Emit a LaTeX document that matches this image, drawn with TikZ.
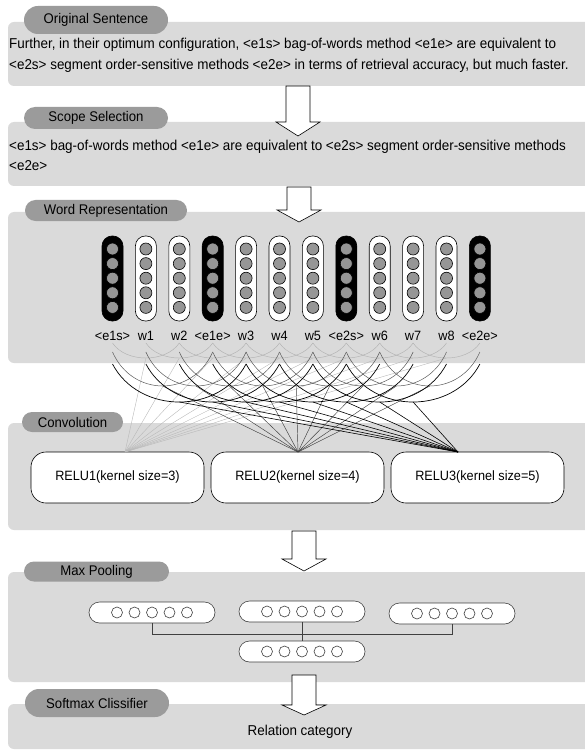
\documentclass[tikz,border=0pt]{standalone}
\usepackage{fontspec}
\setmainfont{Liberation Sans}[FakeStretch=0.94]
\usetikzlibrary{shapes.misc,calc}
\definecolor{panelgray}{RGB}{218,218,218}
\definecolor{pillgray}{RGB}{155,155,155}
\definecolor{dotgray}{RGB}{150,150,150}
\begin{document}
\begin{tikzpicture}[x=1pt,y=-1pt,
  font=\fontsize{14.3}{16}\selectfont,
  panel/.style={fill=panelgray, rounded corners=6pt},
  pill/.style={rounded rectangle, fill=pillgray, inner sep=0pt, font=\fontsize{14}{16}\selectfont},
  txt/.style={anchor=base west, inner sep=0pt},
  wcol/.style={draw=black, line width=0.6pt, rounded corners=10pt, minimum width=21pt, minimum height=85pt, inner sep=0pt},
  dot/.style={circle, draw=black, line width=0.6pt, fill=dotgray, minimum size=12pt, inner sep=0pt},
  wlab/.style={anchor=base, inner sep=0pt, font=\fontsize{13.5}{16}\selectfont},
  k3/.style={gray!60, line width=0.45pt},
  k4/.style={gray!70!black, line width=0.5pt},
  k5/.style={black, line width=0.7pt},
  k3line/.style={gray!55, line width=0.4pt},
  k4line/.style={gray!50!black, line width=0.45pt},
  k5line/.style={black, line width=0.6pt},
  relubox/.style={draw=black, line width=0.6pt, fill=white, rounded corners=15pt, minimum width=173pt, minimum height=51pt, inner sep=0pt, font=\fontsize{13.5}{16}\selectfont},
  poolbox/.style={rounded rectangle, draw=black!75, line width=0.6pt, fill=white, minimum width=126pt, minimum height=21pt, inner sep=0pt},
  pdot/.style={circle, draw=black!75, line width=0.6pt, fill=white, minimum size=11pt, inner sep=0pt},
  conn/.style={draw=black!75, line width=0.6pt},
  bigarrow/.style={draw=black, line width=0.6pt, fill=white}]
\useasboundingbox (0,0) rectangle (584,751);

% panels
\fill[panel] (8,22) rectangle (600,86);
\fill[panel] (8,122) rectangle (600,186);
\fill[panel] (8,212) rectangle (600,363);
\fill[panel] (8,423) rectangle (600,530);
\fill[panel] (8,572) rectangle (600,682);
\fill[panel] (8,704) rectangle (600,749);

% pills
\node[pill, minimum width=144pt, minimum height=28pt] (p1) at (96,20) {Original Sentence};
\node[pill, minimum width=144pt, minimum height=22pt] (p2) at (96,118) {Scope Selection};
\node[pill, minimum width=162pt, minimum height=21pt] (p3) at (106,210.5) {Word Representation};
\node[pill, minimum width=101pt, minimum height=20pt] (p4) at (72.5,422) {Convolution};
\node[pill, minimum width=145pt, minimum height=20pt] (p5) at (96.5,571.5) {Max Pooling};
\node[pill, minimum width=144pt, minimum height=28pt] (p6) at (97,703) {Softmax Clissifier};

% texts
\node[txt] (t1a) at (9,49) {Further, in their optimum configuration, <e1s> bag-of-words method <e1e> are equivalent to};
\node[txt] (t1b) at (9,69.5) {<e2s> segment order-sensitive methods <e2e> in terms of retrieval accuracy, but much faster.};
\node[txt] (t2a) at (9,150.5) {<e1s> bag-of-words method <e1e> are equivalent to <e2s> segment order-sensitive methods};
\node[txt] (t2b) at (9,171) {<e2e>};

% word columns
\foreach \i/\lab/\fc in {0/{<e1s>}/black,1/w1/white,2/w2/white,3/{<e1e>}/black,4/w3/white,5/w4/white,6/w5/white,7/{<e2s>}/black,8/w6/white,9/w7/white,10/w8/white,11/{<e2e>}/black}{
  \pgfmathsetmacro\xx{112.5+33.4*\i}
  \node[wcol, fill=\fc] (c\i) at (\xx,278.5) {};
  \foreach \k in {0,...,4}{
    \node[dot] (d\i-\k) at (\xx,249+14.6*\k) {};
  }
  \node[wlab] (l\i) at (\xx,340) {\lab};
}

% RELU boxes
\node[relubox] (relu1) at (117.5,477.5) {RELU1(kernel size=3)};
\node[relubox] (relu2) at (297.5,477.5) {RELU2(kernel size=4)};
\node[relubox] (relu3) at (477.5,477.5) {RELU3(kernel size=5)};
\coordinate (r1) at (125,452);
\coordinate (r2) at (298,452);
\coordinate (r3) at (458,452);

% convolution windows
\foreach \k/\yt/\yc/\yb/\tgt in {3/343/363/358/r1, 4/352/397.3/386/r2, 5/364/414.7/402/r3}{
  \pgfmathtruncatemacro\nmax{12-\k}
  \foreach \j in {0,...,\nmax}{
    \pgfmathsetmacro\xa{112.5+33.4*\j}
    \pgfmathsetmacro\xb{\xa+33.4*(\k-1)}
    \pgfmathsetmacro\xm{(\xa+\xb)/2}
    \pgfmathsetmacro\ca{\xa+0.2*(\xb-\xa)}
    \pgfmathsetmacro\cb{\xb-0.2*(\xb-\xa)}
    \draw[k\k] (\xa,\yt) .. controls (\ca,\yc) and (\cb,\yc) .. (\xb,\yt);
    \coordinate (m\k-\j) at (\xm,\yb);
    \draw[k\k line] (m\k-\j) -- (\tgt);
  }
}

% pooling
\node[poolbox] (pa) at (152,612.5) {};
\node[poolbox] (pb) at (302,611.5) {};
\node[poolbox] (pc) at (452,613.5) {};
\node[poolbox] (pd) at (302,651.5) {};
\foreach \b in {pa,pb,pc,pd}{
  \foreach \k in {-2,...,2}{
    \node[pdot] (\b\k) at ($(\b)+(17.5*\k,0)$) {};
  }
}
\coordinate (hl) at (152,634);
\coordinate (hr) at (452,634);
\draw[conn] (pa.south) -- (hl) -- (hr) -- (pc.south);
\draw[conn] (pb.south) -- (pd.north);

\node[anchor=base, inner sep=0pt] (rc) at (300,735) {Relation category};

% block arrows
\foreach \cx/\ya/\yh/\yt in {298/86/122/136, 299/187/210/222, 304/531/559/571, 304/675/705/715}{
  \draw[bigarrow] (\cx-12,\ya) -- (\cx-12,\yh) -- (\cx-22,\yh) -- (\cx,\yt) -- (\cx+22,\yh) -- (\cx+12,\yh) -- (\cx+12,\ya) -- cycle;
}
\end{tikzpicture}
\end{document}
